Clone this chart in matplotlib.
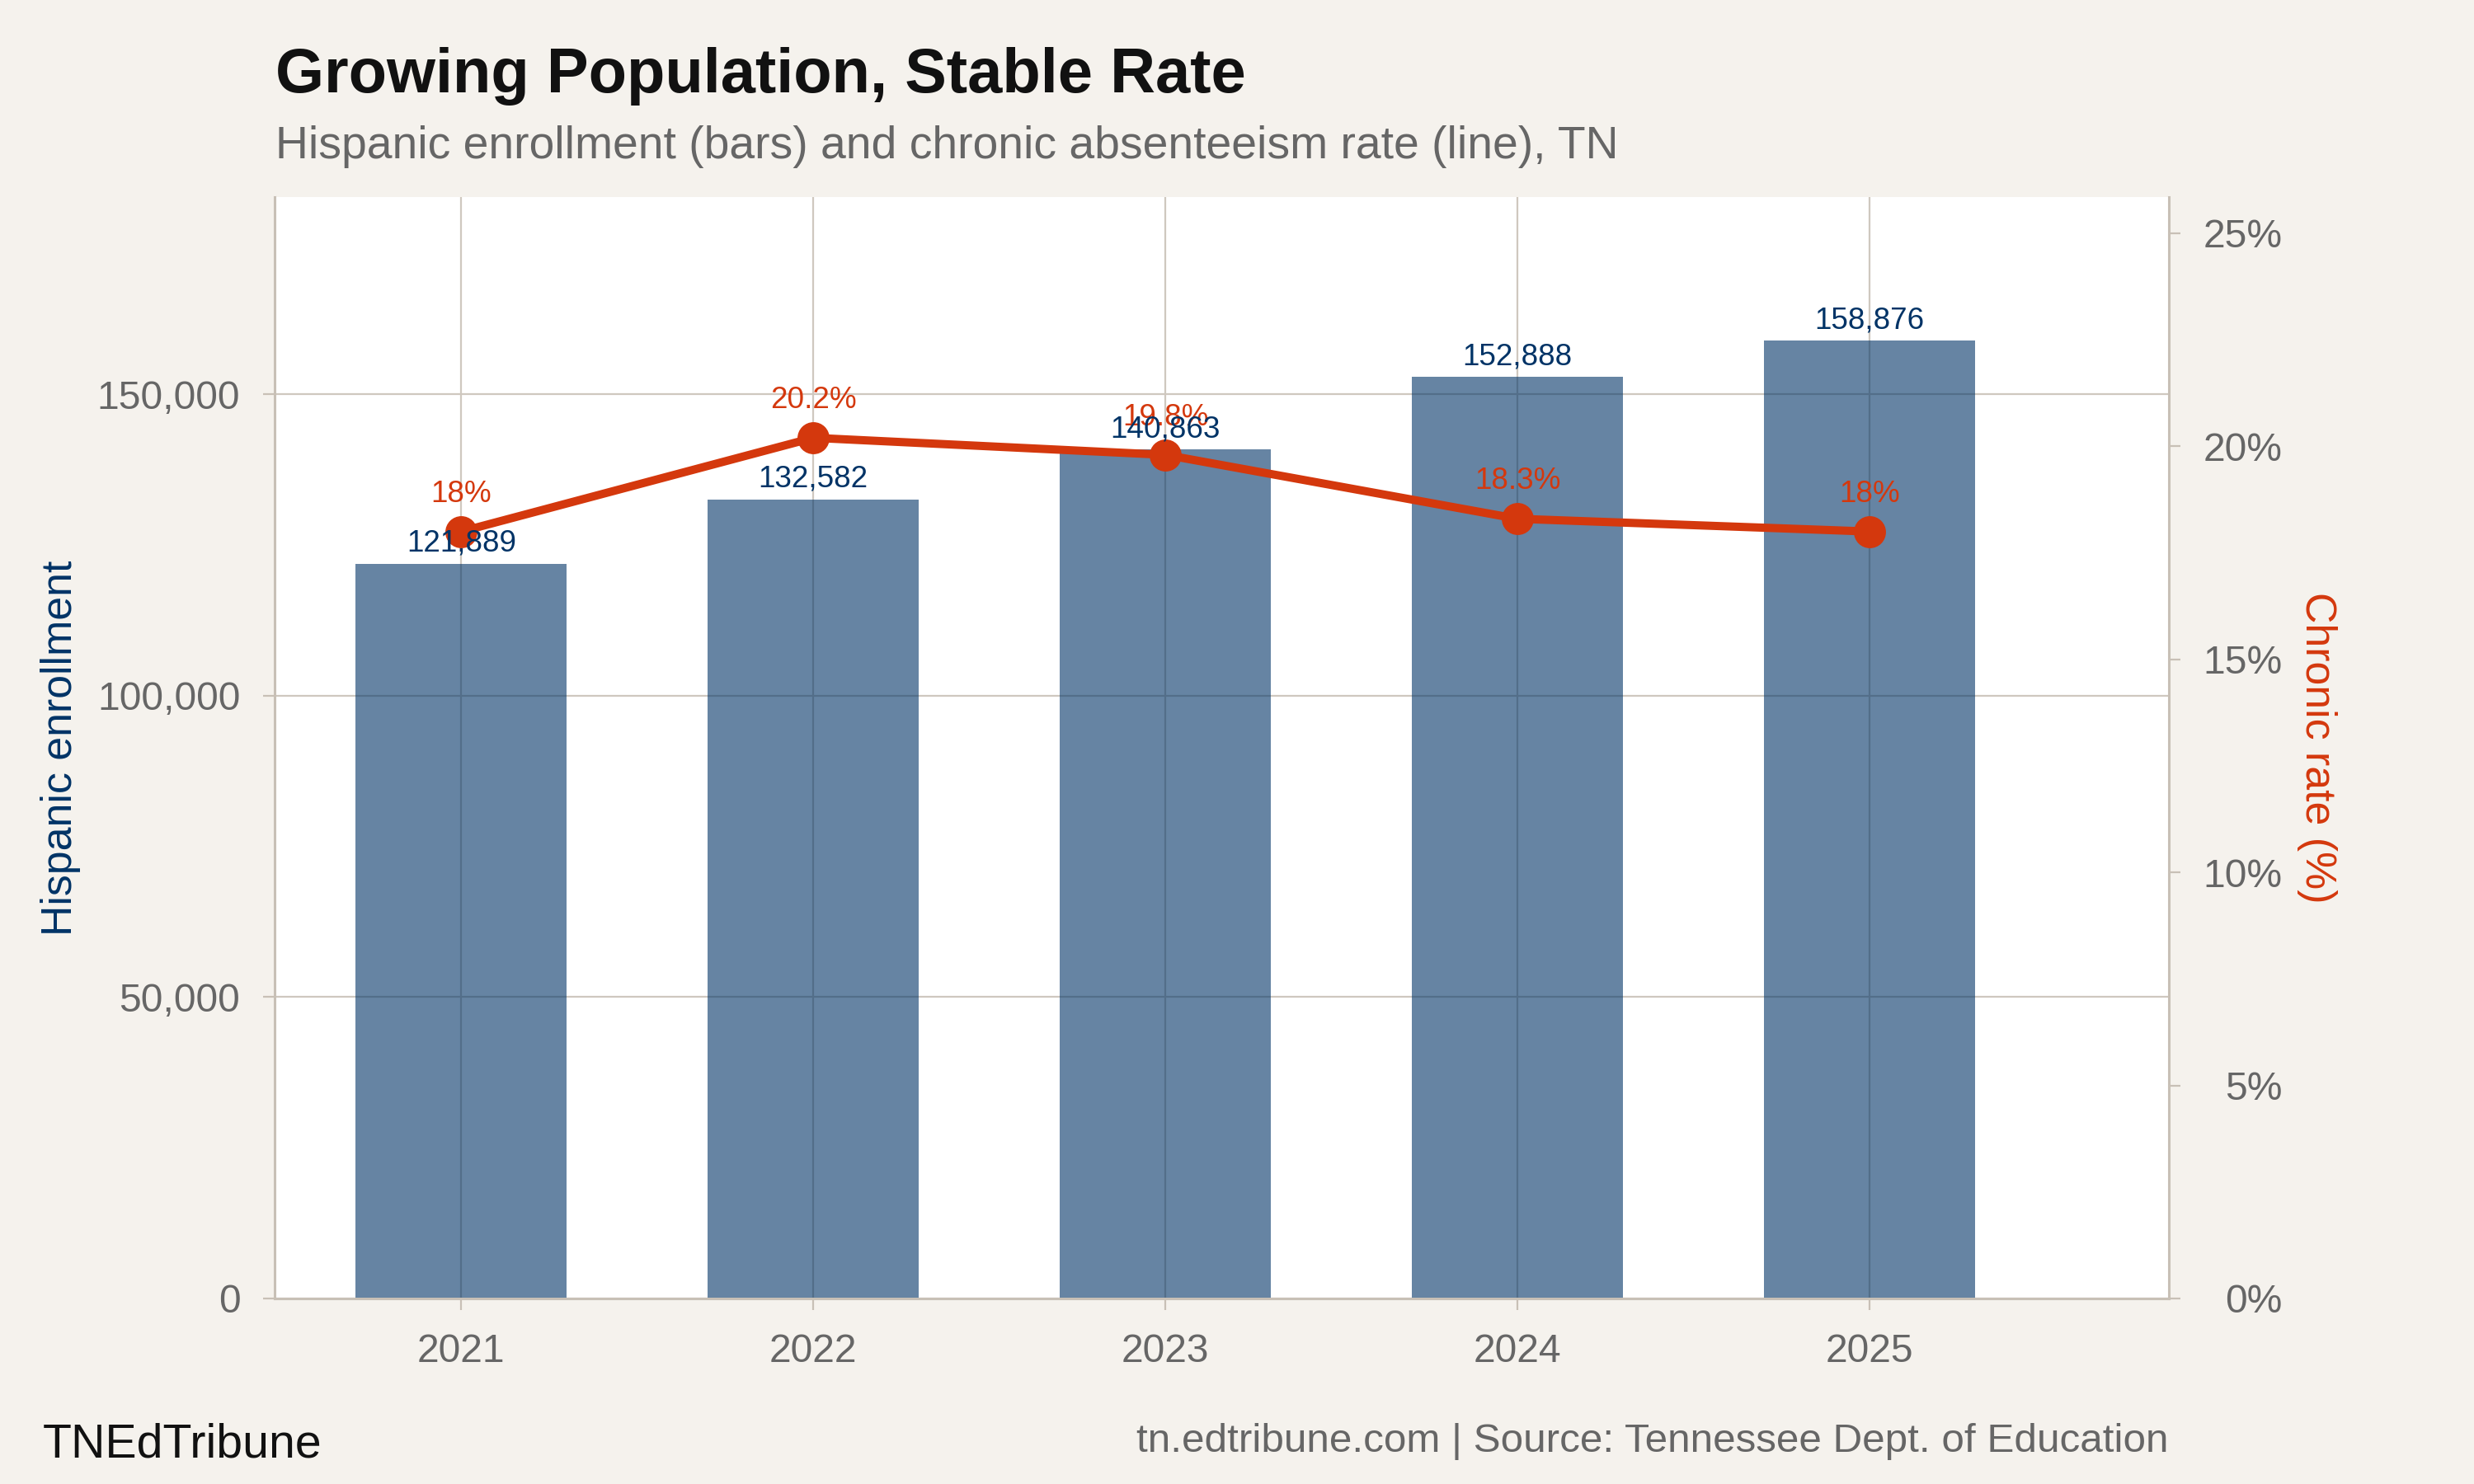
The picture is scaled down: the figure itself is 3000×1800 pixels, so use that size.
import matplotlib.pyplot as plt

# chart data
years = ["2021", "2022", "2023", "2024", "2025"]
enrollment = [121889, 132582, 140863, 152888, 158876]
chronic_rate = [18.0, 20.2, 19.8, 18.3, 18.0]
enroll_ticks = [0, 50000, 100000, 150000]
rate_ticks = [0, 5, 10, 15, 20, 25]

NAVY = "#003366"
RED = "#d4380d"
BG = "#f5f2ed"
GRID = "#cfc8bf"
SPINE = "#c8c0b6"
GREY = "#666666"

plt.rcParams['font.family'] = ['Liberation Sans', 'DejaVu Sans']

fig = plt.figure(figsize=(15, 9), dpi=200, facecolor=BG)
ax = fig.add_axes([0.111, 0.125, 0.7657, 0.7422])
ax.set_facecolor("white")

x = list(range(len(years)))
ax.bar(x, enrollment, width=0.6, color=NAVY, alpha=0.6, zorder=2)
ax.set_axisbelow(True)
ax.grid(True, color=GRID, linewidth=0.8)
ax.set_xlim(-0.53, 4.85)
ax.set_ylim(0, max(enrollment) * 1.15)
ax.set_xticks(x)
ax.set_xticklabels(years)
ax.set_yticks(enroll_ticks)
ax.set_yticklabels([f"{v:,}" for v in enroll_ticks])
ax.tick_params(length=5, width=0.8, color=SPINE, labelcolor=GREY,
               labelsize=17.3, pad=10)
for side in ["top", "right"]:
    ax.spines[side].set_visible(False)
for side in ["left", "bottom"]:
    ax.spines[side].set_color(SPINE)
    ax.spines[side].set_linewidth(1.1)
ax.set_ylabel("Hispanic enrollment", color=NAVY, fontsize=18.7,
              va='center', ha='center')
ax.yaxis.set_label_coords(-0.113, 0.5)

# rate line on the right axis
ax2 = ax.twinx()
ax2.plot(x, chronic_rate, color=RED, linewidth=3.6, marker='o',
         markersize=13, zorder=3)
ax2.set_ylim(0, 25.85)
ax2.set_yticks(rate_ticks)
ax2.set_yticklabels([f"{v}%" for v in rate_ticks])
ax2.tick_params(axis='y', length=5, width=0.8, color=SPINE, labelcolor=GREY,
                labelsize=17.3, pad=44.6)
for t in ax2.get_yticklabels():
    t.set_ha('right')
for side in ["top", "left", "bottom"]:
    ax2.spines[side].set_visible(False)
ax2.spines["right"].set_color(SPINE)
ax2.spines["right"].set_linewidth(1.1)
ax2.set_ylabel("Chronic rate (%)", color=RED, fontsize=18.7, rotation=270,
               va='center', ha='center')
ax2.yaxis.set_label_coords(1.078, 0.5)

for i, r in enumerate(chronic_rate):
    ax2.annotate(f"{r:g}%", (i, r), xytext=(0, 10), textcoords='offset points',
                 ha='center', va='bottom', color=RED, fontsize=13.3)

# bar labels go on top of everything
for i, v in enumerate(enrollment):
    ax2.annotate(f"{v:,}", (i, v), xycoords=ax.transData, xytext=(0, 2.5),
                 textcoords='offset points', ha='center', va='bottom',
                 color=NAVY, fontsize=13.3, zorder=5)

fig.text(0.1113, 1 - 112 / 1800, "Growing Population, Stable Rate",
         fontsize=27.3, fontweight='bold', color='#111111', va='baseline')
fig.text(0.1113, 1 - 192 / 1800,
         "Hispanic enrollment (bars) and chronic absenteeism rate (line), TN",
         fontsize=19.9, color=GREY, va='baseline')
fig.text(52 / 3000, 1 - 1767 / 1800, "TNEdTribune", fontsize=20.6,
         color='#111111', va='baseline')
fig.text(2630 / 3000, 1 - 1761 / 1800,
         "tn.edtribune.com | Source: Tennessee Dept. of Education",
         fontsize=17.8, color=GREY, ha='right', va='baseline')

fig.savefig("out.png", dpi=200, facecolor=BG)
